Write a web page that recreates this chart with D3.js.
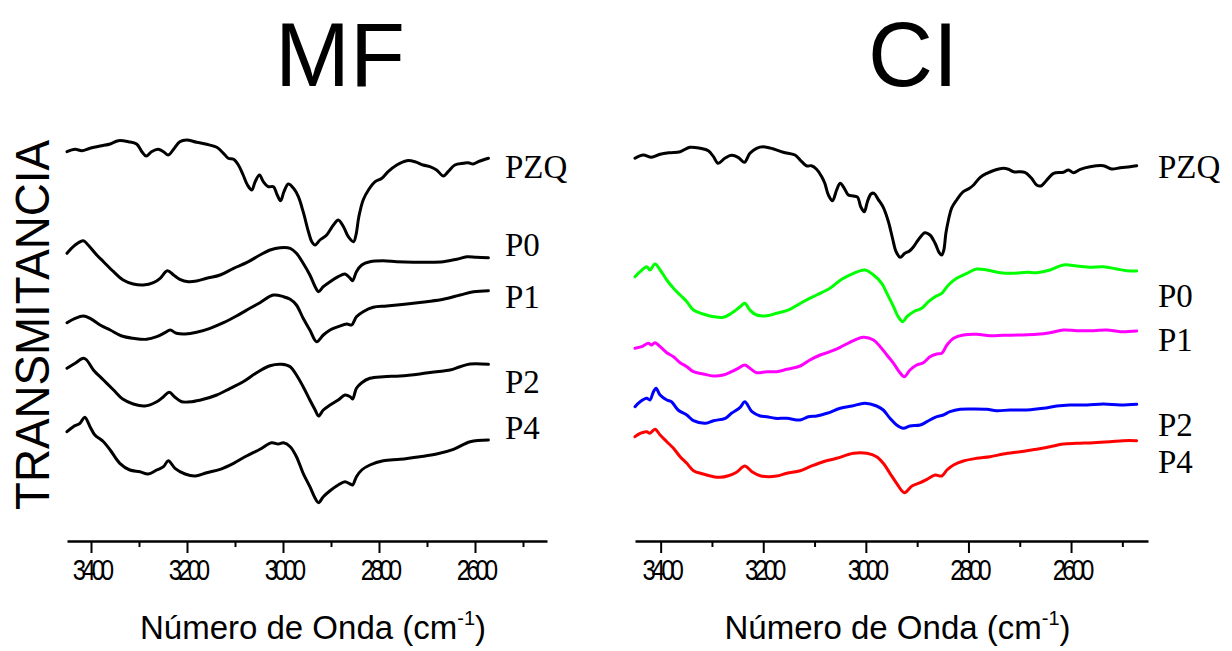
<!DOCTYPE html>
<html>
<head>
<meta charset="utf-8">
<script src="https://cdn.jsdelivr.net/npm/d3@7"></script>
<style>
  body { margin: 0; background: #fff; }
  svg { display: block; }
</style>
</head>
<body>
<div id="main"></div>
<script>
"use strict";

// ticks of the wavenumber axis (cm-1)
const majorTicks = [3400, 3200, 3000, 2800, 2600];
const minorTicks = [3300, 3100, 2900, 2700, 2500];

const seriesNames = ["PZQ", "P0", "P1", "P2", "P4"];
const mfColors = ["#000", "#000", "#000", "#000", "#000"];
const ciColors = ["#000", "#00ff00", "#ff00ff", "#0000ff", "#ff0000"];

// spectra as [wavenumber, transmittance (stacked, a.u.)]
const mfPZQ = [[3450,38.83],[3433,39.07],[3419,38.93],[3402,39.17],[3381,39.4],[3360,39.6],[3343,39.93],[3322,39.83],[3305,39.6],[3294,38.83],[3285,38.4],[3274,38.83],[3260,39.07],[3249,38.83],[3239,38.5],[3228,39.07],[3215,39.83],[3201,40.0],[3180,39.77],[3159,39.57],[3138,39.27],[3124,38.67],[3114,38.17],[3103,38.07],[3093,37.5],[3083,36.5],[3074,35.5],[3065,35.0],[3058,35.83],[3049,36.5],[3041,35.83],[3031,35.33],[3020,35.33],[3012,34.5],[3005,33.93],[2998,34.83],[2989,35.6],[2978,35.17],[2968,34.33],[2958,32.83],[2947,30.83],[2940,29.83],[2933,29.5],[2923,30.0],[2909,30.5],[2895,31.5],[2885,32.0],[2874,31.33],[2864,30.33],[2853,29.83],[2848,30.5],[2842,32.33],[2833,34.0],[2822,35.0],[2808,35.83],[2794,36.17],[2781,36.83],[2763,37.5],[2742,37.93],[2725,37.83],[2708,37.5],[2694,37.33],[2680,37.0],[2666,36.4],[2656,36.83],[2642,37.5],[2624,37.67],[2614,37.73],[2604,37.6],[2593,37.83],[2572,38.17]];
const mfP0 = [[3450,28.67],[3433,29.5],[3416,29.93],[3406,29.5],[3388,28.5],[3374,27.83],[3353,26.83],[3333,26.0],[3312,25.6],[3291,25.5],[3270,25.73],[3256,26.17],[3241,26.93],[3228,26.5],[3215,26.07],[3197,25.83],[3180,25.9],[3159,26.17],[3131,26.5],[3103,27.17],[3076,27.73],[3048,28.5],[3027,29.0],[3006,29.23],[2985,29.17],[2972,28.67],[2958,27.67],[2944,26.5],[2933,25.33],[2926,24.83],[2916,25.33],[2902,25.83],[2885,26.33],[2871,26.6],[2860,26.17],[2855,25.93],[2847,26.83],[2836,27.5],[2819,27.83],[2791,27.93],[2763,27.83],[2728,27.77],[2701,27.77],[2666,27.83],[2638,28.07],[2617,28.33],[2597,28.27],[2572,28.23]];
const mfP1 = [[3450,21.73],[3433,22.17],[3416,22.4],[3402,22.17],[3381,21.5],[3360,21.0],[3336,20.4],[3312,20.17],[3284,20.07],[3263,20.33],[3246,20.73],[3235,21.0],[3222,20.67],[3204,20.6],[3180,20.77],[3152,21.17],[3124,21.73],[3097,22.4],[3069,23.17],[3048,23.73],[3020,24.5],[2999,24.33],[2985,24.07],[2972,23.5],[2958,22.17],[2944,21.0],[2930,19.83],[2916,20.5],[2902,21.0],[2885,21.33],[2867,21.6],[2857,21.5],[2847,22.33],[2833,22.83],[2812,23.27],[2784,23.4],[2742,23.6],[2701,23.83],[2666,24.07],[2631,24.5],[2603,24.83],[2572,24.93]];
const mfP2 = [[3450,17.17],[3433,17.67],[3416,18.17],[3409,18.0],[3395,17.0],[3374,16.0],[3353,15.0],[3333,14.07],[3312,13.6],[3288,13.4],[3263,13.83],[3249,14.33],[3237,14.77],[3225,14.27],[3211,13.83],[3190,13.83],[3166,14.07],[3138,14.5],[3110,15.17],[3083,15.83],[3055,16.73],[3027,17.43],[3003,17.57],[2985,17.33],[2972,16.5],[2958,15.33],[2944,14.0],[2933,13.0],[2926,12.4],[2916,13.0],[2902,13.5],[2885,14.0],[2871,14.5],[2860,14.33],[2855,14.1],[2847,15.17],[2836,15.73],[2819,16.17],[2791,16.33],[2756,16.4],[2715,16.6],[2680,16.83],[2652,17.0],[2631,17.33],[2610,17.6],[2572,17.57]];
const mfP4 = [[3450,10.83],[3437,11.33],[3423,11.67],[3413,12.27],[3402,11.33],[3392,10.5],[3374,9.83],[3360,9.0],[3340,7.67],[3319,7.0],[3298,6.83],[3281,6.6],[3263,7.0],[3249,7.33],[3239,7.93],[3225,7.17],[3204,6.6],[3183,6.4],[3159,6.73],[3131,7.07],[3103,7.67],[3076,8.4],[3048,9.07],[3024,9.73],[3010,9.6],[2999,9.73],[2985,9.33],[2972,8.33],[2958,6.67],[2944,5.33],[2933,4.17],[2926,3.73],[2916,4.33],[2902,4.93],[2885,5.5],[2871,5.83],[2860,5.6],[2855,5.5],[2847,6.33],[2836,7.0],[2819,7.5],[2791,7.93],[2756,8.07],[2715,8.33],[2680,8.6],[2645,9.07],[2610,9.83],[2572,10.0]];

const ciPZQ = [[3450,38.17],[3434,38.5],[3418,38.27],[3401,38.57],[3382,38.73],[3362,38.83],[3343,39.27],[3323,39.17],[3307,38.93],[3297,38.33],[3288,37.67],[3275,38.17],[3262,38.47],[3249,38.27],[3237,37.77],[3226,38.67],[3213,39.17],[3200,39.33],[3180,39.1],[3161,38.77],[3138,38.5],[3125,37.83],[3115,37.4],[3106,37.43],[3096,37.07],[3086,36.33],[3080,35.67],[3073,34.5],[3065,33.93],[3057,35.0],[3050,35.67],[3042,35.17],[3034,34.5],[3024,34.4],[3016,34.27],[3010,33.33],[3003,32.83],[2997,33.83],[2990,34.6],[2984,34.67],[2976,34.07],[2966,33.27],[2956,31.83],[2948,30.17],[2941,28.83],[2933,28.27],[2924,28.67],[2915,28.9],[2907,29.33],[2898,30.0],[2885,30.73],[2875,30.5],[2865,29.67],[2857,28.73],[2852,28.5],[2848,29.0],[2844,30.67],[2839,32.0],[2833,33.17],[2823,34.0],[2810,34.83],[2798,35.17],[2790,35.5],[2777,36.27],[2764,36.67],[2748,37.0],[2732,37.17],[2722,37.07],[2712,36.83],[2690,36.77],[2677,36.17],[2667,35.5],[2659,35.4],[2650,35.83],[2634,36.67],[2615,36.77],[2605,37.0],[2595,36.73],[2582,37.07],[2563,37.33],[2537,37.43],[2521,37.1],[2504,37.23],[2485,37.33],[2472,37.43]];
const ciP0 = [[3450,26.33],[3440,26.83],[3427,27.33],[3421,27.0],[3411,27.6],[3401,27.0],[3388,26.0],[3375,25.17],[3362,24.5],[3349,23.83],[3336,23.0],[3317,22.6],[3297,22.33],[3278,22.27],[3262,22.67],[3245,23.33],[3236,23.67],[3226,23.0],[3213,22.5],[3193,22.43],[3174,22.67],[3148,23.07],[3122,23.83],[3096,24.5],[3070,25.17],[3047,26.07],[3024,26.67],[3002,27.0],[2985,26.5],[2969,25.67],[2959,24.67],[2946,23.33],[2937,22.33],[2928,21.83],[2920,22.33],[2907,22.83],[2891,23.17],[2878,23.83],[2865,24.33],[2852,24.67],[2839,25.5],[2823,26.17],[2803,26.67],[2784,27.1],[2764,27.0],[2738,26.73],[2712,26.67],[2686,26.77],[2667,26.73],[2641,27.0],[2615,27.5],[2589,27.4],[2563,27.27],[2537,27.33],[2511,27.1],[2491,26.93],[2472,26.9]];
const ciP1 = [[3450,19.17],[3437,19.33],[3424,19.67],[3418,19.5],[3411,19.73],[3401,19.33],[3388,18.73],[3375,18.33],[3362,17.73],[3349,17.33],[3336,16.83],[3317,16.6],[3297,16.4],[3278,16.5],[3262,16.83],[3249,17.17],[3236,17.5],[3226,17.17],[3213,16.73],[3193,16.83],[3174,16.83],[3154,17.07],[3128,17.4],[3109,18.0],[3089,18.5],[3070,18.83],[3050,19.27],[3031,19.77],[3005,20.27],[2985,20.0],[2972,19.33],[2959,18.5],[2946,17.67],[2935,16.83],[2925,16.33],[2914,17.0],[2901,17.5],[2888,17.73],[2875,18.33],[2862,18.6],[2852,18.67],[2842,19.5],[2829,20.17],[2810,20.5],[2784,20.57],[2758,20.43],[2732,20.47],[2699,20.5],[2667,20.57],[2641,20.73],[2615,21.0],[2589,20.93],[2556,20.93],[2530,21.0],[2504,20.83],[2472,20.9]];
const ciP2 = [[3450,13.33],[3440,13.83],[3427,14.17],[3421,14.0],[3414,14.83],[3409,15.17],[3401,14.5],[3388,14.0],[3379,13.83],[3366,13.0],[3349,12.5],[3336,11.93],[3312,11.67],[3297,11.93],[3274,12.17],[3262,12.67],[3245,13.27],[3236,13.83],[3222,12.83],[3206,12.4],[3193,12.33],[3177,12.17],[3154,12.17],[3128,12.0],[3112,12.33],[3096,12.4],[3076,12.67],[3050,13.17],[3027,13.4],[3002,13.67],[2979,13.4],[2966,13.0],[2953,12.17],[2940,11.5],[2927,11.17],[2914,11.4],[2894,11.5],[2881,11.83],[2865,12.27],[2849,12.5],[2836,12.83],[2816,13.07],[2790,13.1],[2764,13.07],[2745,12.93],[2719,13.0],[2686,13.0],[2654,13.17],[2628,13.4],[2602,13.5],[2569,13.5],[2537,13.6],[2504,13.5],[2472,13.57]];
const ciP4 = [[3450,10.33],[3440,10.67],[3427,10.83],[3421,10.67],[3411,11.07],[3401,10.5],[3388,9.83],[3375,9.17],[3362,8.33],[3349,7.67],[3336,6.93],[3317,6.6],[3297,6.33],[3284,6.27],[3268,6.43],[3252,6.77],[3236,7.4],[3222,6.83],[3206,6.43],[3190,6.33],[3174,6.4],[3154,6.67],[3128,6.93],[3109,7.33],[3083,7.83],[3057,8.17],[3024,8.67],[2998,8.67],[2979,8.33],[2966,7.67],[2953,6.67],[2940,5.67],[2925,4.73],[2910,5.4],[2894,5.73],[2881,6.07],[2865,6.5],[2852,6.4],[2842,7.0],[2829,7.5],[2810,7.9],[2784,8.17],[2758,8.33],[2732,8.6],[2699,8.83],[2667,9.07],[2641,9.33],[2615,9.6],[2589,9.67],[2556,9.73],[2524,9.83],[2498,9.93],[2472,9.93]];

const width = 1232, height = 651;
const axisY = 541;
const sans = "Liberation Sans, Arial, sans-serif";

const svg = d3.select("#main").append("svg")
    .attr("width", width)
    .attr("height", height);

// shared vertical scale for both panels
const yScale = d3.scaleLinear().domain([0, 42]).range([540, 120]);

const panels = [
    { title: "MF", titleX: 340, x0: 67, x1: 547, labelX: 505,
      labelY: [178, 256, 308, 393, 439],
      series: [mfPZQ, mfP0, mfP1, mfP2, mfP4], colors: mfColors },
    { title: "CI", titleX: 913, x0: 635, x1: 1148, labelX: 1158,
      labelY: [178, 307, 351, 436, 473],
      series: [ciPZQ, ciP0, ciP1, ciP2, ciP4], colors: ciColors }
];

function drawPanel(p) {
    const x = d3.scaleLinear().domain([3450, 2450]).range([p.x0, p.x1]);
    const g = svg.append("g");

    g.append("text")
        .attr("x", p.titleX)
        .attr("y", 86)
        .attr("text-anchor", "middle")
        .attr("font-family", sans)
        .attr("font-size", 90)
        .text(p.title);

    const line = d3.line()
        .x(d => x(d[0]))
        .y(d => yScale(d[1]))
        .curve(d3.curveCatmullRom.alpha(0.5));

    p.series.forEach((s, i) => {
        g.append("path")
            .datum(s)
            .attr("d", line)
            .attr("fill", "none")
            .attr("stroke", p.colors[i])
            .attr("stroke-width", 3)
            .attr("stroke-linejoin", "round")
            .attr("stroke-linecap", "round");

        g.append("text")
            .attr("x", p.labelX)
            .attr("y", p.labelY[i])
            .attr("font-family", "Liberation Serif, Times New Roman, serif")
            .attr("font-size", 33)
            .text(seriesNames[i]);
    });

    // minor ticks first, then major ticks with labels and the axis line
    const minor = g.append("g")
        .attr("transform", `translate(0,${axisY})`)
        .call(d3.axisBottom(x).tickValues(minorTicks).tickSize(6).tickSizeOuter(0).tickFormat(""));
    minor.select(".domain").remove();
    minor.selectAll("line").attr("stroke-width", 2);

    const major = g.append("g")
        .attr("transform", `translate(0,${axisY})`)
        .call(d3.axisBottom(x).tickValues(majorTicks).tickSize(12).tickSizeOuter(0).tickPadding(6).tickFormat(d3.format("d")));
    major.select(".domain").attr("stroke-width", 2.5);
    major.selectAll("line").attr("stroke-width", 2);
    // tight, overlapping digits as in the original
    major.selectAll("text")
        .attr("font-family", sans)
        .attr("font-size", 30)
        .attr("letter-spacing", -5)
        .attr("transform", "scale(0.8,1)");

    // x axis title with superscript
    const xt = g.append("text")
        .attr("x", (p.x0 + p.x1) / 2 + 6)
        .attr("y", 639)
        .attr("text-anchor", "middle")
        .attr("font-family", sans)
        .attr("font-size", 33);
    xt.append("tspan").text("Número de Onda (cm");
    xt.append("tspan").attr("font-size", 20).attr("dy", -14).text("-1");
    xt.append("tspan").attr("dy", 14).text(")");
}

panels.forEach(drawPanel);

svg.append("text")
    .attr("transform", "translate(49,325) rotate(-90)")
    .attr("text-anchor", "middle")
    .attr("font-family", sans)
    .attr("font-size", 48)
    .attr("textLength", 370)
    .attr("lengthAdjust", "spacingAndGlyphs")
    .text("TRANSMITANCIA");
</script>
</body>
</html>
